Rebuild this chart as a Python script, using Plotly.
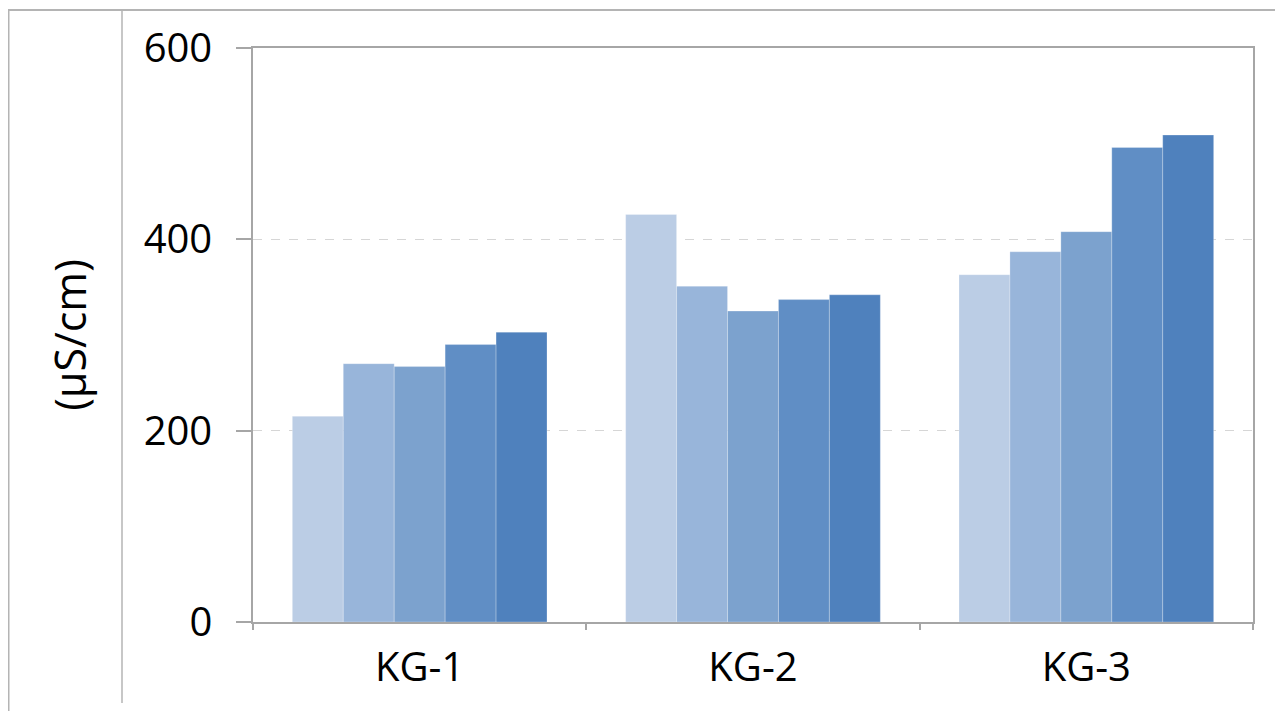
import plotly.graph_objects as go

categories = ["KG-1", "KG-2", "KG-3"]
series_1 = [215, 426, 363]
series_2 = [270, 351, 387]
series_3 = [267, 325, 408]
series_4 = [290, 337, 496]
series_5 = [303, 342, 509]
y_ticks = [0, 200, 400, 600]

series = [series_1, series_2, series_3, series_4, series_5]
colors = ["#BBCDE5", "#98B5DA", "#7CA2CE", "#608EC5", "#4F81BD"]

fig = go.Figure()
for i, (vals, col) in enumerate(zip(series, colors)):
    fig.add_trace(go.Bar(
        x=categories, y=vals, name=f"S{i+1}",
        marker=dict(color=col, line=dict(color="rgba(255,255,255,0.25)", width=1)),
    ))

FONT = "Open Sans, DejaVu Sans, sans-serif"
# page body has an 8px margin, so the figure is slightly smaller than the window
W, H = 1275, 703
L, R, T, B = 245, 30, 40, 89
PW, PH = W - L - R, H - T - B

fig.update_layout(
    width=W, height=H,
    margin=dict(l=L, r=R, t=T, b=B, autoexpand=False),
    paper_bgcolor="white", plot_bgcolor="white",
    barmode="group", bargap=0.236, bargroupgap=0,
    showlegend=False,
    font=dict(family=FONT, color="#000000"),
)
fig.update_yaxes(
    range=[0, 600], tickvals=y_ticks, ticktext=[str(v) for v in y_ticks],
    showline=True, linecolor="#A6A6A6", linewidth=1.5, mirror=True,
    ticks="outside", ticklen=15, tickcolor="#A6A6A6", tickwidth=1.5,
    showgrid=True, gridcolor="#D6D6D6", griddash="dash", gridwidth=1,
    zeroline=False, automargin=False,
    tickfont=dict(size=40, family=FONT, color="#000000"),
    ticklabelstandoff=16,
    title=dict(text="(µS/cm)", font=dict(size=43, family=FONT, color="#000000"), standoff=44),
)
fig.update_xaxes(
    showline=True, linecolor="#A6A6A6", linewidth=1.5, mirror=True,
    ticks="outside", ticklen=6, tickcolor="#A6A6A6", tickwidth=1.5,
    tickson="boundaries", automargin=False,
    tickfont=dict(size=40, family=FONT, color="#000000"),
    ticklabelstandoff=9,
)

# decorative frame lines of the cropped sheet (figure-pixel positions converted to paper)
top_y = 1 + (T - 2) / PH
fig.add_shape(type="line", xref="paper", yref="paper", x0=-L / PW, x1=(W - L) / PW,
              y0=top_y, y1=top_y, line=dict(color="#B4B4B4", width=2))
fig.add_shape(type="line", xref="paper", yref="paper", x0=-(L - 0.5) / PW, x1=-(L - 0.5) / PW,
              y0=top_y, y1=-B / PH, line=dict(color="#B4B4B4", width=2))
fig.add_shape(type="line", xref="paper", yref="paper", x0=-(L - 114) / PW, x1=-(L - 114) / PW,
              y0=top_y, y1=-(B - 8) / PH, line=dict(color="#B4B4B4", width=1.5))

fig.write_html("out.html")
